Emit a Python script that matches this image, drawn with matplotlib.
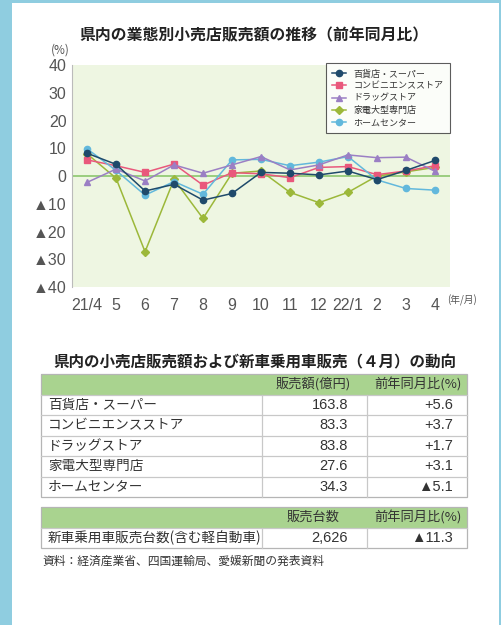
import matplotlib.pyplot as plt
from matplotlib.patches import Rectangle

plt.rcParams['font.family'] = ['Noto Sans CJK JP', 'DejaVu Sans']
NUM_FONT = ['Liberation Sans', 'Noto Sans CJK JP']

# chart data (前年同月比, %)
months = ['21/4', '5', '6', '7', '8', '9', '10', '11', '12', '22/1', '2', '3', '4']
dept = [8.2, 4.2, -5.4, -3.0, -8.7, -6.3, 1.3, 1.0, 0.4, 1.8, -1.3, 2.0, 5.6]
conv = [5.8, 3.7, 1.3, 4.3, -3.3, 1.2, 0.8, -0.6, 3.1, 3.4, 0.5, 1.8, 3.7]
drug = [-2.3, 2.5, -1.8, 4.0, 1.0, 4.0, 7.0, 2.2, 4.0, 7.6, 6.6, 6.8, 1.7]
appl = [8.0, -0.8, -27.3, -1.2, -15.3, 1.0, 1.8, -5.9, -9.6, -5.9, 0.0, 1.5, 3.1]
home = [9.8, 2.0, -6.9, -2.0, -6.6, 5.8, 6.0, 3.7, 5.0, 7.0, -1.4, -4.5, -5.1]
series_names = ['百貨店・スーパー', 'コンビニエンスストア', 'ドラッグストア', '家電大型専門店', 'ホームセンター']
yticks = [40, 30, 20, 10, 0, -10, -20, -30, -40]
ytick_labels = ['40', '30', '20', '10', '0', '▲10', '▲20', '▲30', '▲40']

# table data
tbl_header = ['販売額(億円)', '前年同月比(%)']
tbl_rows = ['百貨店・スーパー', 'コンビニエンスストア', 'ドラッグストア', '家電大型専門店', 'ホームセンター']
tbl_sales = ['163.8', '83.3', '83.8', '27.6', '34.3']
tbl_yoy = ['+5.6', '+3.7', '+1.7', '+3.1', '▲5.1']
car_header = ['販売台数', '前年同月比(%)']
car_row = '新車乗用車販売台数(含む軽自動車)'
car_units = '2,626'
car_yoy = '▲11.3'

W, H = 501, 625
fig = plt.figure(figsize=(W / 100, H / 100), dpi=100, facecolor='#8fcde0')

# page canvas in pixel coords
bg = fig.add_axes([0, 0, 1, 1])
bg.set_xlim(0, W)
bg.set_ylim(H, 0)
bg.axis('off')
bg.add_patch(Rectangle((12, 3), 487, 625, facecolor='white', edgecolor='none'))

# line chart
ax = fig.add_axes([72 / W, 1 - 287 / H, 378 / W, 222 / H])
ax.set_facecolor('#eef6e2')
x = list(range(len(months)))
styles = [
    (dept, '#1f4a6b', 'o', 4.5, 6),
    (conv, '#e9587c', 's', 4.5, 4),
    (drug, '#9b7fc4', '^', 4.5, 5),
    (appl, '#9cb83a', 'D', 4.0, 3),
    (home, '#62b8dc', 'o', 4.5, 4),
]
for (vals, col, mk, ms, z), name in zip(styles, series_names):
    ax.plot(x, vals, color=col, marker=mk, markersize=ms, linewidth=1.1,
            label=name, zorder=z)
ax.axhline(0, color='#8cc76e', linewidth=1.2, zorder=2)
ax.set_xlim(-0.52, 12.52)
ax.set_ylim(-40, 40)
ax.set_yticks(yticks)
ax.set_yticklabels(ytick_labels, family=NUM_FONT)
ax.set_xticks(x)
ax.set_xticklabels(months, family=NUM_FONT)
ax.tick_params(axis='both', length=0, labelsize=11.5, colors='#555555', pad=4)
ax.tick_params(axis='x', pad=8)
for s in ['top', 'right', 'bottom']:
    ax.spines[s].set_visible(False)
ax.spines['left'].set_color('#bbbbbb')
leg = ax.legend(loc='upper right', fontsize=6.5, frameon=True, fancybox=False,
                borderpad=0.7, handlelength=1.6, labelspacing=0.35,
                bbox_to_anchor=(1.0, 1.01), borderaxespad=0)
leg.get_frame().set_edgecolor('#333333')
leg.get_frame().set_linewidth(0.8)
for t in leg.get_texts():
    t.set_color('#333333')

bg.text(254, 35, '県内の業態別小売店販売額の推移（前年同月比）', ha='center', va='center',
        fontsize=11.4, fontweight='bold', color='#222222')
bg.text(60, 50, '(%)', ha='center', va='center', fontsize=8.5, color='#555555')
bg.text(462, 300, '(年/月)', ha='center', va='center', fontsize=7, color='#555555')

# table section
bg.text(255, 362, '県内の小売店販売額および新車乗用車販売（４月）の動向', ha='center',
        va='center', fontsize=11.2, fontweight='bold', color='#222222')

green = '#a9d38f'
line = '#c8c8c8'
cx = [41, 262, 367, 467]
tcol = '#333333'


def draw_table(top, header, rows, sales, yoy):
    rh = 20.5
    bg.add_patch(Rectangle((cx[0], top), cx[3] - cx[0], rh, facecolor=green,
                           edgecolor='none'))
    bg.text(313, top + rh / 2, header[0], ha='center', va='center', fontsize=9.5, color=tcol)
    bg.text(418, top + rh / 2, header[1], ha='center', va='center', fontsize=9.5, color=tcol)
    for i, (r, s, v) in enumerate(zip(rows, sales, yoy)):
        y0 = top + rh * (i + 1)
        bg.plot([cx[0], cx[3]], [y0, y0], color=line, linewidth=0.9)
        bg.text(48, y0 + rh / 2, r, ha='left', va='center', fontsize=9.8, color=tcol)
        bg.text(348, y0 + rh / 2, s, ha='right', va='center', fontsize=10.5,
                color=tcol, family=NUM_FONT)
        bg.text(453, y0 + rh / 2, v, ha='right', va='center', fontsize=10.5,
                color=tcol, family=NUM_FONT)
    bottom = top + rh * (len(rows) + 1)
    bg.add_patch(Rectangle((cx[0], top), cx[3] - cx[0], bottom - top,
                           facecolor='none', edgecolor='#b5b5b5', linewidth=0.9))
    for xv in cx[1:3]:
        bg.plot([xv, xv], [top + rh, bottom], color=line, linewidth=0.9)


draw_table(374, tbl_header, tbl_rows, tbl_sales, tbl_yoy)
draw_table(507, car_header, [car_row], [car_units], [car_yoy])

bg.text(42, 561, '資料：経済産業省、四国運輸局、愛媛新聞の発表資料', ha='left', va='center',
        fontsize=8.5, color='#333333')

fig.savefig('out.png', dpi=100, facecolor=fig.get_facecolor())
